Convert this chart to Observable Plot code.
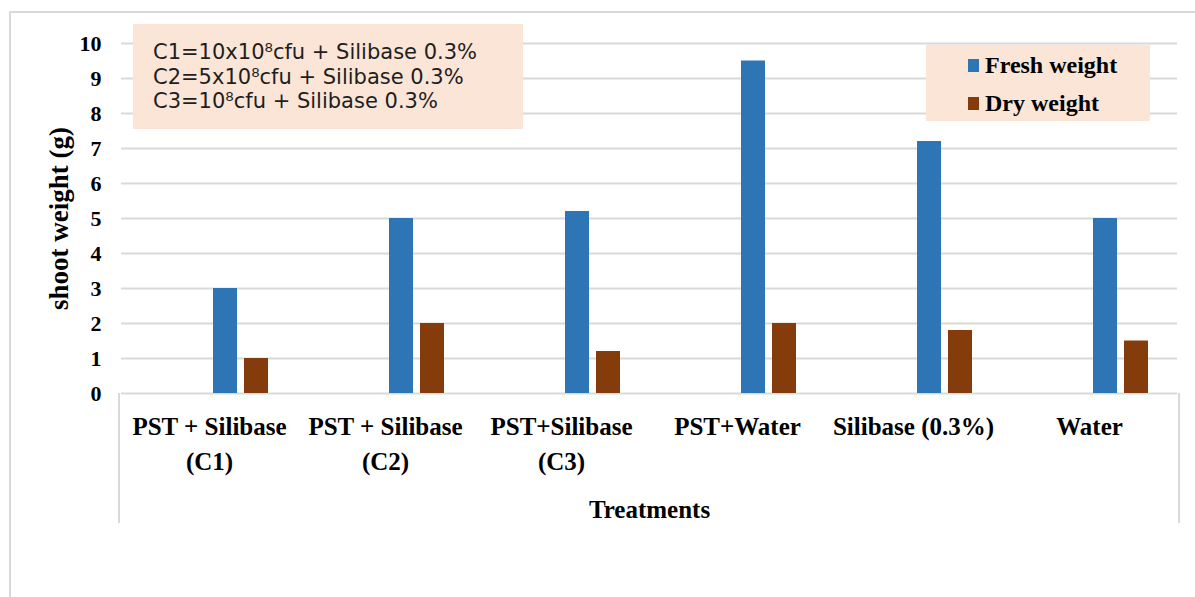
<!DOCTYPE html>
<html>
<head>
<meta charset="utf-8">
<script src="https://cdn.jsdelivr.net/npm/d3@7"></script>
<script src="https://cdn.jsdelivr.net/npm/@observablehq/plot@0.6"></script>
<style>
  html, body { margin: 0; padding: 0; background: #fff; }
  #wrap { position: relative; width: 1195px; height: 597px; overflow: hidden; }
  #frame { position: absolute; left: 9px; top: 11px; right: -5px; bottom: -5px;
           border-left: 2px solid #d9d9d9; border-top: 2px solid #d9d9d9; }
  #chart { position: absolute; left: 0; top: 0; }
  .note { position: absolute; left: 133px; top: 24px; width: 390px; height: 105px;
          background: #fbe5d6; font-family: "DejaVu Sans", sans-serif; font-size: 21px;
          color: #1e1e1e; box-sizing: border-box;
          padding: 16px 0 0 20px; line-height: 24.6px; }
  .legend { position: absolute; left: 926px; top: 45px; width: 224px; height: 76px;
            background: #fbe5d6; font-family: "Liberation Serif", serif; font-weight: bold;
            font-size: 24px; color: #000; box-sizing: border-box; padding: 1px 0 0 42px; }
  .legend .row { height: 38px; line-height: 38px; display: flex; align-items: center; }
  .legend .sw { display: inline-block; width: 11px; height: 13px; margin-right: 6px; }
</style>
</head>
<body>
<div id="wrap">
  <div id="frame"></div>
  <div id="chart"></div>
  <div class="note" id="note"></div>
  <div class="legend" id="legend"></div>
</div>
<script>
const categories = ["PST + Silibase (C1)", "PST + Silibase (C2)", "PST+Silibase (C3)", "PST+Water", "Silibase (0.3%)", "Water"];
const tickLabels = ["PST + Silibase\n(C1)", "PST + Silibase\n(C2)", "PST+Silibase\n(C3)", "PST+Water", "Silibase (0.3%)", "Water"];
const freshWeight = [3, 5, 5.2, 9.5, 7.2, 5];
const dryWeight = [1, 2, 1.2, 2, 1.8, 1.5];
const seriesNames = ["Fresh weight", "Dry weight"];
const seriesColors = ["#2e75b6", "#843c0c"];
const slots = ["_empty1", "_empty2", "Fresh weight", "Dry weight"];
const yTicks = [0, 1, 2, 3, 4, 5, 6, 7, 8, 9, 10];
const noteLines = ["C1=10x10⁸cfu + Silibase 0.3%", "C2=5x10⁸cfu + Silibase 0.3%", "C3=10⁸cfu + Silibase 0.3%"];
const yLabel = "shoot weight (g)";
const xLabel = "Treatments";

const data = categories.flatMap((c, i) => [
  {cat: c, series: seriesNames[0], value: freshWeight[i]},
  {cat: c, series: seriesNames[1], value: dryWeight[i]}
]);

const serif = "'Liberation Serif', 'Times New Roman', serif";

const plot = Plot.plot({
  width: 1195,
  height: 597,
  marginLeft: 119,
  marginRight: 16,
  marginTop: 43,
  marginBottom: 204,
  style: {fontFamily: serif, fontWeight: "bold", fontSize: "22px", color: "#000", background: "transparent", overflow: "visible"},
  fx: {domain: categories, padding: 0, axis: null},
  x: {domain: slots, paddingInner: 0.234, paddingOuter: 0.877, axis: null},
  y: {domain: [0, 10], axis: null},
  color: {domain: seriesNames, range: seriesColors},
  marks: [
    Plot.ruleY(yTicks, {stroke: "#d9d9d9", strokeWidth: 2}),
    Plot.barY(data, {fx: "cat", x: "series", y: "value", fill: "series"}),
    Plot.axisY({ticks: yTicks, tickSize: 0, tickPadding: 20, fontSize: 22, fontFamily: serif, label: null}),
    Plot.axisY({ticks: [], tickSize: 0, fontSize: 27, fontFamily: serif, label: yLabel,
      labelAnchor: "center", labelOffset: 73, labelArrow: "none"}),
    Plot.axisFx({anchor: "bottom", tickSize: 0, tickPadding: 17, fontSize: 25, fontFamily: serif, lineHeight: 1.4,
      tickFormat: d => tickLabels[categories.indexOf(d)],
      label: xLabel, labelAnchor: "center", labelOffset: 124})
  ]
});
document.getElementById("chart").appendChild(plot);

// category-axis box side lines, from the scales
const fxs = plot.scale("fx"), ys = plot.scale("y");
const svg = d3.select(plot);
const [xa, xb] = fxs.range;
const y0 = ys.range[0];
[xa, xb].forEach(xv => {
  svg.append("line").attr("x1", xv).attr("x2", xv).attr("y1", y0).attr("y2", y0 + 130)
    .attr("stroke", "#d9d9d9").attr("stroke-width", 2);
});

// notes box
const note = d3.select("#note");
noteLines.forEach(t => note.append("div").text(t));

// legend
const lg = d3.select("#legend");
seriesNames.forEach((s, i) => {
  const r = lg.append("div").attr("class", "row");
  r.append("span").attr("class", "sw").style("background", seriesColors[i]);
  r.append("span").text(s);
});
</script>
</body>
</html>
